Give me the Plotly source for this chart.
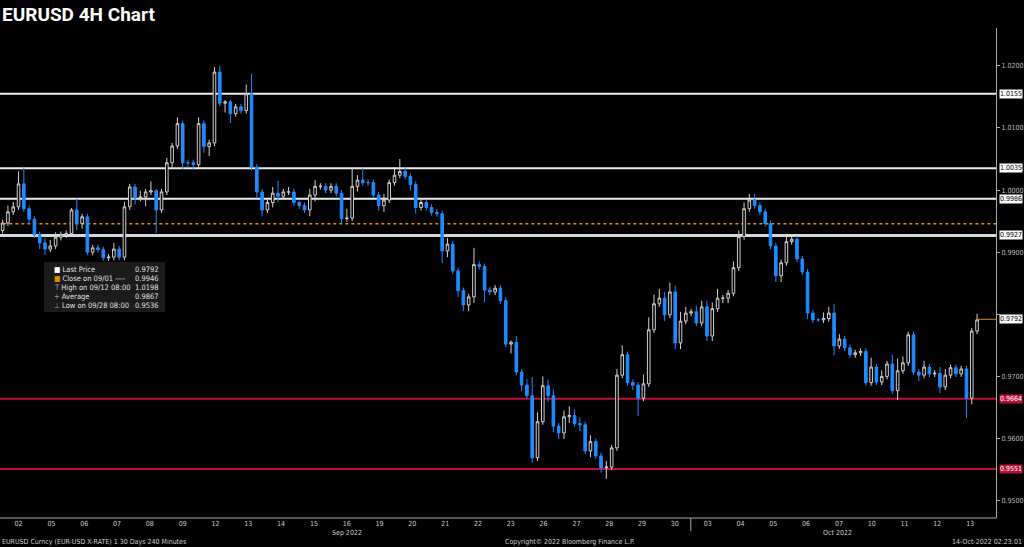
import plotly.graph_objects as go

closes = [0.9947,0.9965,0.9973,1.0010,0.9970,0.9953,0.9928,0.9915,0.9905,0.9910,0.9924,0.9928,0.9930,0.9968,0.9946,0.9957,0.9900,0.9907,0.9904,0.9891,0.9892,0.9905,0.9892,0.9973,1.0005,0.9987,0.9989,0.9997,0.9999,0.9968,0.9997,1.0044,1.0071,1.0107,1.0044,1.0044,1.0041,1.0107,1.0070,1.0076,1.0190,1.0140,1.0142,1.0123,1.0134,1.0128,1.0155,1.0037,0.9997,
          0.9968,0.9980,0.9995,0.9990,0.9997,0.9997,0.9980,0.9975,0.9968,0.9992,1.0006,1.0006,1.0000,1.0006,0.9995,0.9954,0.9955,1.0006,1.0016,1.0012,1.0012,0.9992,0.9975,0.9984,1.0012,1.0024,1.0030,1.0022,1.0009,0.9972,0.9980,0.9972,0.9964,0.9962,0.9902,0.9913,0.9870,0.9838,0.9815,0.9828,0.9880,0.9877,0.9839,0.9836,0.9842,0.9822,
          0.9752,0.9755,0.9707,0.9686,0.9669,0.9569,0.9627,0.9685,0.9669,0.9620,0.9609,0.9635,0.9637,0.9624,0.9622,0.9580,0.9595,0.9572,0.9553,0.9554,0.9585,0.9702,0.9735,0.9690,0.9686,0.9665,0.9688,0.9775,0.9817,0.9826,0.9799,0.9836,0.9754,0.9789,0.9802,0.9804,0.9786,0.9812,0.9765,0.9809,0.9826,0.9826,0.9834,0.9875,
          0.9925,0.9970,0.9984,0.9975,0.9965,0.9946,0.9910,0.9862,0.9883,0.9917,0.9921,0.9889,0.9868,0.9802,0.9791,0.9791,0.9793,0.9802,0.9749,0.9760,0.9746,0.9735,0.9738,0.9740,0.9690,0.9715,0.9691,0.9700,0.9720,0.9677,0.9709,0.9722,0.9767,0.9707,0.9702,0.9715,0.9704,0.9705,0.9683,0.9702,0.9714,0.9704,0.9712,0.9665,0.9773,0.9791]
first_open = 0.9935
upper_wick_pips = [5,10,8,20,28,5,5,5,8,10,8,5,5,3,20,5,5,5,5,5,5,10,5,8,5,5,10,5,15,3,5,8,5,10,5,5,5,10,5,5,8,10,3,3,5,5,15,33,5,
                   5,5,10,20,5,8,5,3,5,10,10,5,5,5,5,5,15,30,8,20,5,5,5,10,5,10,20,8,5,5,5,5,5,5,5,10,5,5,5,5,27,5,5,5,5,5,
                   5,3,10,5,10,30,15,15,10,10,5,10,15,10,10,5,10,5,5,10,5,10,15,5,5,5,15,20,15,15,10,15,10,15,10,5,10,10,10,10,15,5,5,10,
                   10,10,10,10,5,5,5,5,5,10,5,5,5,5,5,3,10,10,15,8,5,5,5,5,5,15,5,10,5,15,20,10,5,5,5,10,5,5,10,10,5,5,5,5,5,10]
lower_wick_pips = [5,5,5,5,5,8,5,10,10,5,5,5,5,5,10,8,5,5,5,5,5,5,5,5,5,10,5,15,5,37,5,5,8,5,10,8,8,5,10,15,5,5,15,15,5,5,5,5,10,
                   10,5,8,10,5,5,5,5,5,10,10,5,5,5,5,8,5,5,8,5,5,5,8,10,5,5,5,5,10,10,5,5,5,5,20,10,5,10,10,10,10,5,20,5,5,5,
                   5,15,5,10,5,8,5,5,10,10,10,10,10,5,10,5,10,5,8,18,5,5,5,5,8,29,5,5,5,5,10,5,10,10,5,5,5,5,8,8,5,8,8,5,
                   5,5,5,5,5,5,5,10,10,5,5,5,5,10,5,3,5,5,15,5,5,5,5,5,5,5,5,5,5,5,15,5,5,5,10,5,5,5,10,5,5,5,5,32,10,5]

day_labels = ["02","05","06","07","08","09","12","13","14","15","16","19","20","21","22","23","26","27","28","29","30",
              "03","04","05","06","07","10","11","12","13"]
h_white = [1.0155, 1.0035, 0.9986, 0.9927]
h_red = [0.9664, 0.9551]
close_0901 = 0.9946
last_price = 0.9792
legend_values = {"last": 0.9792, "close": 0.9946, "high": 1.0198, "avg": 0.9867, "low": 0.9536}
ytick_vals = [1.02, 1.01, 1.00, 0.99, 0.98, 0.97, 0.96, 0.95]
ytick_text = ["1.0200", "1.0100", "1.0000", "0.9900", "", "0.9700", "0.9600", "0.9500"]

n = len(closes)
opens = [first_open] + closes[:-1]
highs = [max(o, c) + u / 10000 for o, c, u in zip(opens, closes, upper_wick_pips)]
lows = [min(o, c) - l / 10000 for o, c, l in zip(opens, closes, lower_wick_pips)]
x = list(range(n))

W, H = 1024, 547
plot_w = 996
top, bottom = 28, 518
bar_px = 977 / (n - 1)
xmax = plot_w / bar_px
day_px = 32.9
tick_x = [(16 + k * day_px) / bar_px for k in range(len(day_labels))]
FONT = "DejaVu Sans Condensed"

fig = go.Figure()
fig.add_trace(go.Candlestick(x=x, open=opens, high=highs, low=lows, close=closes,
    increasing=dict(line=dict(color="#d0d0d0", width=1), fillcolor="#000000"),
    decreasing=dict(line=dict(color="#1e8cff", width=1), fillcolor="#1e8cff"),
    whiskerwidth=0, showlegend=False, hoverinfo="skip"))

def yp(py):
    return 1 - (py - top) / (bottom - top)

shapes = []
for v in h_white:
    thick = v == 0.9927
    shapes.append(dict(type="line", xref="x", yref="y", x0=-1, x1=xmax, y0=v, y1=v, layer="below",
                       line=dict(color="#d8d8d8" if thick else "#ececec", width=3 if thick else 2)))
for v in h_red:
    shapes.append(dict(type="line", xref="x", yref="y", x0=-1, x1=xmax, y0=v, y1=v, layer="below",
                       line=dict(color="#b8123a", width=2)))
shapes.append(dict(type="line", xref="x", yref="y", x0=-1, x1=xmax, y0=close_0901, y1=close_0901, layer="below",
                   line=dict(color="#f08c00", width=1.5, dash="dot")))
shapes.append(dict(type="line", xref="x", yref="y", x0=n - 1, x1=xmax, y0=last_price, y1=last_price,
                   line=dict(color="#e08a00", width=1)))
shapes.append(dict(type="line", xref="paper", yref="paper", x0=0, x1=1, y0=0, y1=0, line=dict(color="#aaaaaa", width=1)))
shapes.append(dict(type="line", xref="x", yref="paper", x0=690 / bar_px, x1=690 / bar_px, y0=0, y1=yp(531),
                   line=dict(color="#aaaaaa", width=1)))
shapes.append(dict(type="rect", xref="paper", yref="paper", x0=44 / plot_w, x1=165 / plot_w,
                   y0=yp(312), y1=yp(262), fillcolor="#1b1b1b", line=dict(width=0)))

ann = []
for v in h_white + [last_price]:
    ann.append(dict(x=1.003, y=v, xref="paper", yref="y", text=f"{v:.4f}", showarrow=False, xanchor="left",
                    font=dict(size=7, color="#000000", family=FONT), bgcolor="#ffffff", borderpad=0))
for v in h_red:
    ann.append(dict(x=1.003, y=v, xref="paper", yref="y", text=f"{v:.4f}", showarrow=False, xanchor="left",
                    font=dict(size=7, color="#ffffff", family=FONT), bgcolor="#b8123a", borderpad=0))

legend_rows = [("■", "#ffffff", "Last Price", legend_values["last"]),
               ("■", "#e08a00", "Close on 09/01 ----", legend_values["close"]),
               ("T", "#999999", "High on 09/12 08:00", legend_values["high"]),
               ("+", "#999999", "Average", legend_values["avg"]),
               ("⊥", "#999999", "Low on 09/28 08:00", legend_values["low"])]
for i, (sym, col, lab, val) in enumerate(legend_rows):
    py = 269 + i * 9.2
    ann.append(dict(x=52 / plot_w, y=yp(py), xref="paper", yref="paper", text=f"<span style='color:{col}'>{sym}</span> {lab}",
                    showarrow=False, xanchor="left", yanchor="middle", font=dict(size=7.5, color="#e0e0e0", family=FONT)))
    ann.append(dict(x=161 / plot_w, y=yp(py), xref="paper", yref="paper", text=f"{val:.4f}", showarrow=False,
                    xanchor="right", yanchor="middle", font=dict(size=7.5, color="#e0e0e0", family=FONT)))

for txt, px in [("Sep 2022", 345), ("Oct 2022", 837)]:
    ann.append(dict(x=px / bar_px, y=yp(533), xref="x", yref="paper", text=txt, showarrow=False, yanchor="middle",
                    font=dict(size=7, color="#cccccc", family=FONT)))
for txt, xx, anc in [("EURUSD Curncy (EUR-USD X-RATE) 1 30 Days 240 Minutes", 0, "left"),
                     ("Copyright© 2022 Bloomberg Finance L.P.", 570 / plot_w, "center"),
                     ("14-Oct-2022 02:23:01", W / plot_w, "right")]:
    ann.append(dict(x=xx, y=yp(542), xref="paper", yref="paper", text=txt, showarrow=False, xanchor=anc,
                    yanchor="middle", font=dict(size=7, color="#cccccc", family=FONT)))
ann.append(dict(x=0, y=yp(14), xref="paper", yref="paper", text="<b>EURUSD 4H Chart</b>", showarrow=False,
                xanchor="left", yanchor="middle", font=dict(size=19, color="#ffffff", family="Roboto")))

fig.update_layout(
    width=W, height=H, paper_bgcolor="#000000", plot_bgcolor="#000000",
    margin=dict(l=0, r=W - plot_w, t=top, b=H - bottom, autoexpand=False),
    shapes=shapes, annotations=ann,
    xaxis=dict(range=[-0.5, xmax], rangeslider=dict(visible=False), showgrid=False, zeroline=False,
               tickmode="array", tickvals=tick_x, ticktext=day_labels, ticks="",
               tickfont=dict(size=7, color="#cccccc", family=FONT), showline=False),
    yaxis=dict(side="right", range=[0.9472, 1.0261], showgrid=False, zeroline=False, tickmode="array",
               tickvals=ytick_vals, ticktext=ytick_text, ticks="outside", ticklen=3,
               tickcolor="#aaaaaa", showline=True, linecolor="#aaaaaa", linewidth=1,
               tickfont=dict(size=7, color="#bbbbbb", family=FONT)),
)
fig.write_html("out.html", config={"displayModeBar": False},
               post_script="document.body.style.margin='0';document.body.style.background='#000';")
